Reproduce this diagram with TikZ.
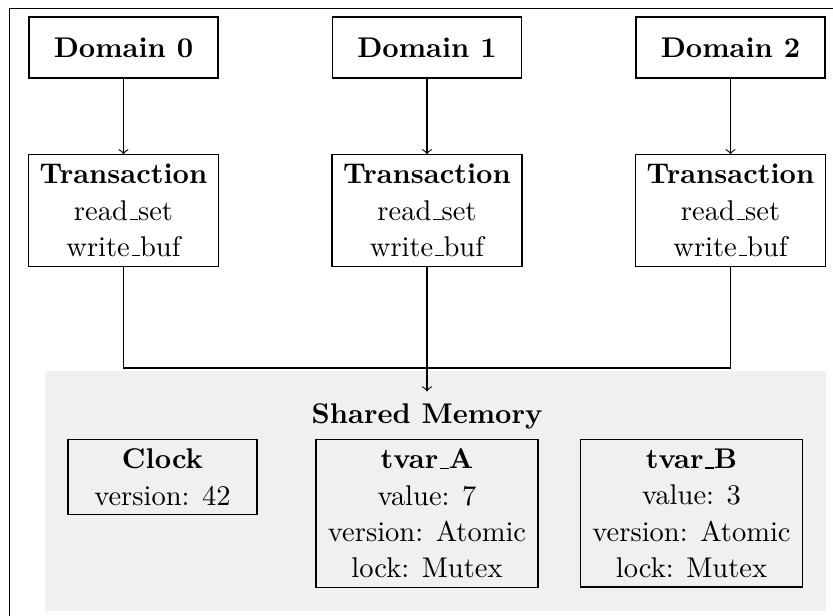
\documentclass[tikz,border=0pt]{standalone}
\newcommand\myusc{\leavevmode\kern.06em\vbox{\hrule width.3em}}
\begin{document}
\begin{tikzpicture}[x=0.3509pt,y=-0.3509pt,
  basefont/.style={font=\fontsize{10}{12.7}\selectfont},
  basefont,
  box/.style={draw, align=center, inner sep=3.33pt, fill=white},
  domainbox/.style={box, minimum width=66.3pt, minimum height=21.4pt, font=\fontsize{10}{12.7}\selectfont\bfseries},
  txbox/.style={box, minimum width=66.7pt},
  membox/.style={draw, align=center, inner sep=3.33pt, anchor=north},
  memfill/.style={fill=black!6, draw=none, inner sep=0pt},
  conn/.style={draw},
  arr/.style={->}]
\useasboundingbox (0,0) rectangle (833,615);
\draw (9.5,8.5) rectangle (845,630);
% shared memory background
\node[memfill, minimum width=274.0pt, minimum height=84.2pt] (mem) at (435.5,491) {};
% domains
\node[domainbox] (d0) at (123.5,47.5) {Domain 0};
\node[domainbox] (d1) at (427,47.5) {Domain 1};
\node[domainbox] (d2) at (730.5,47.5) {Domain 2};
% transactions
\node[txbox] (t0) at (123.5,210.5) {\textbf{Transaction}\\read\myusc set\\write\myusc buf};
\node[txbox] (t1) at (427,210.5) {\textbf{Transaction}\\read\myusc set\\write\myusc buf};
\node[txbox] (t2) at (730.5,210.5) {\textbf{Transaction}\\read\myusc set\\write\myusc buf};
% shared memory contents
\node[font=\fontsize{10}{12.7}\selectfont\bfseries, inner sep=4pt, anchor=base] (memlabel) at (427,423.3) {Shared Memory};
\node[membox, minimum width=66.3pt] (clock) at (162.5,439) {\textbf{Clock}\\version: 42};
\node[membox, minimum width=77.9pt] (ta) at (427,439) {\textbf{tvar\myusc A}\\value: 7\\version: Atomic\\lock: Mutex};
\node[membox, minimum width=77.9pt] (tb) at (691.5,439) {\textbf{tvar\myusc B}\\value: 3\\version: Atomic\\lock: Mutex};
% connectors
\draw[arr] (d0) -- (t0);
\draw[arr] (d1) -- (t1);
\draw[arr] (d2) -- (t2);
\coordinate (j) at (427,368);
\draw[conn] (t0.south) |- (j) -| (t2.south);
\draw[arr] (t1.south) -- (memlabel.north);
\end{tikzpicture}
\end{document}
